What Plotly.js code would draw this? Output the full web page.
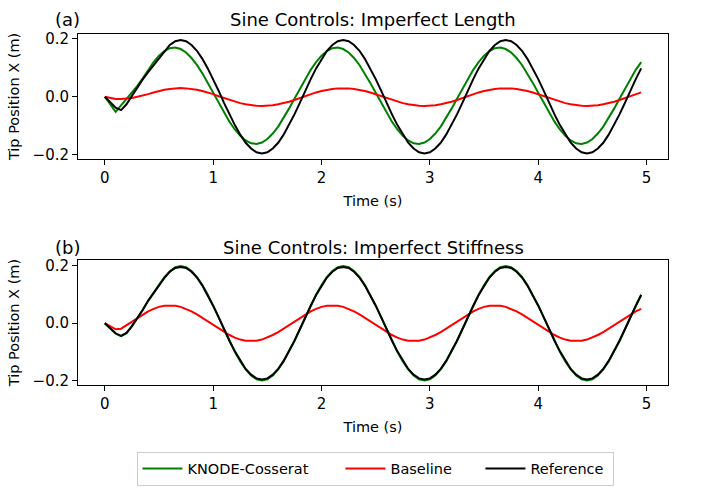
<!DOCTYPE html>
<html>
<head>
<meta charset="utf-8">
<script src="https://cdn.plot.ly/plotly-3.0.1.min.js"></script>
<style>
  html, body { margin: 0; padding: 0; background: #fff; }
  #chart { width: 705px; height: 498px; }
</style>
</head>
<body>
<div id="chart"></div>
<script>
// time samples (s)
var time = [0, 0.05, 0.1, 0.15, 0.2, 0.25, 0.3, 0.35, 0.4, 0.45,
  0.5, 0.55, 0.6, 0.65, 0.7, 0.75, 0.8, 0.85, 0.9, 0.95,
  1, 1.05, 1.1, 1.15, 1.2, 1.25, 1.3, 1.35, 1.4, 1.45,
  1.5, 1.55, 1.6, 1.65, 1.7, 1.75, 1.8, 1.85, 1.9, 1.95,
  2, 2.05, 2.1, 2.15, 2.2, 2.25, 2.3, 2.35, 2.4, 2.45,
  2.5, 2.55, 2.6, 2.65, 2.7, 2.75, 2.8, 2.85, 2.9, 2.95,
  3, 3.05, 3.1, 3.15, 3.2, 3.25, 3.3, 3.35, 3.4, 3.45,
  3.5, 3.55, 3.6, 3.65, 3.7, 3.75, 3.8, 3.85, 3.9, 3.95,
  4, 4.05, 4.1, 4.15, 4.2, 4.25, 4.3, 4.35, 4.4, 4.45,
  4.5, 4.55, 4.6, 4.65, 4.7, 4.75, 4.8, 4.85, 4.9, 4.95];

// (a) imperfect length
var knodeA = [0, -0.026, -0.052, -0.030, -0.008, 0.014, 0.038, 0.064, 0.093, 0.120,
  0.142, 0.158, 0.168, 0.170, 0.165, 0.153, 0.134, 0.110, 0.081, 0.048,
  0.014, -0.021, -0.055, -0.086, -0.113, -0.135, -0.151, -0.161, -0.163, -0.158,
  -0.146, -0.127, -0.103, -0.074, -0.041, -0.007, 0.028, 0.062, 0.093, 0.120,
  0.142, 0.158, 0.168, 0.170, 0.165, 0.153, 0.134, 0.110, 0.081, 0.048,
  0.014, -0.021, -0.055, -0.086, -0.113, -0.135, -0.151, -0.161, -0.163, -0.158,
  -0.146, -0.127, -0.103, -0.074, -0.041, -0.007, 0.028, 0.062, 0.093, 0.120,
  0.142, 0.158, 0.168, 0.170, 0.165, 0.153, 0.134, 0.110, 0.081, 0.048,
  0.014, -0.021, -0.055, -0.086, -0.113, -0.135, -0.151, -0.161, -0.163, -0.158,
  -0.146, -0.127, -0.103, -0.074, -0.041, -0.007, 0.028, 0.062, 0.093, 0.120];
var baseA = [0, -0.005, -0.008, -0.008, -0.007, -0.004, 0.000, 0.004, 0.009, 0.015,
  0.020, 0.024, 0.027, 0.029, 0.030, 0.029, 0.027, 0.024, 0.020, 0.015,
  0.009, 0.002, -0.004, -0.011, -0.017, -0.022, -0.026, -0.029, -0.031, -0.032,
  -0.031, -0.029, -0.026, -0.022, -0.017, -0.011, -0.004, 0.002, 0.009, 0.015,
  0.020, 0.024, 0.027, 0.029, 0.030, 0.029, 0.027, 0.024, 0.020, 0.015,
  0.009, 0.002, -0.004, -0.011, -0.017, -0.022, -0.026, -0.029, -0.031, -0.032,
  -0.031, -0.029, -0.026, -0.022, -0.017, -0.011, -0.004, 0.002, 0.009, 0.015,
  0.020, 0.024, 0.027, 0.029, 0.030, 0.029, 0.027, 0.024, 0.020, 0.015,
  0.009, 0.002, -0.004, -0.011, -0.017, -0.022, -0.026, -0.029, -0.031, -0.032,
  -0.031, -0.029, -0.026, -0.022, -0.017, -0.011, -0.004, 0.002, 0.009, 0.015];
var refA = [0, -0.020, -0.038, -0.046, -0.026, 0.003, 0.033, 0.060, 0.085, 0.109,
  0.132, 0.159, 0.179, 0.192, 0.196, 0.192, 0.179, 0.159, 0.131, 0.098,
  0.061, 0.021, -0.021, -0.061, -0.098, -0.131, -0.159, -0.179, -0.192, -0.196,
  -0.192, -0.179, -0.159, -0.131, -0.098, -0.061, -0.021, 0.021, 0.061, 0.098,
  0.131, 0.159, 0.179, 0.192, 0.196, 0.192, 0.179, 0.159, 0.131, 0.098,
  0.061, 0.021, -0.021, -0.061, -0.098, -0.131, -0.159, -0.179, -0.192, -0.196,
  -0.192, -0.179, -0.159, -0.131, -0.098, -0.061, -0.021, 0.021, 0.061, 0.098,
  0.131, 0.159, 0.179, 0.192, 0.196, 0.192, 0.179, 0.159, 0.131, 0.098,
  0.061, 0.021, -0.021, -0.061, -0.098, -0.131, -0.159, -0.179, -0.192, -0.196,
  -0.192, -0.179, -0.159, -0.131, -0.098, -0.061, -0.021, 0.021, 0.061, 0.098];

// (b) imperfect stiffness
var knodeB = [0, -0.018, -0.036, -0.045, -0.035, -0.011, 0.016, 0.047, 0.079, 0.108,
  0.134, 0.160, 0.181, 0.195, 0.199, 0.195, 0.182, 0.161, 0.133, 0.099,
  0.062, 0.021, -0.021, -0.062, -0.099, -0.133, -0.161, -0.182, -0.195, -0.199,
  -0.195, -0.182, -0.161, -0.133, -0.099, -0.062, -0.021, 0.021, 0.062, 0.099,
  0.133, 0.161, 0.182, 0.195, 0.199, 0.195, 0.182, 0.161, 0.133, 0.099,
  0.062, 0.021, -0.021, -0.062, -0.099, -0.133, -0.161, -0.182, -0.195, -0.199,
  -0.195, -0.182, -0.161, -0.133, -0.099, -0.062, -0.021, 0.021, 0.062, 0.099,
  0.133, 0.161, 0.182, 0.195, 0.199, 0.195, 0.182, 0.161, 0.133, 0.099,
  0.062, 0.021, -0.021, -0.062, -0.099, -0.133, -0.161, -0.182, -0.195, -0.199,
  -0.195, -0.182, -0.161, -0.133, -0.099, -0.062, -0.021, 0.021, 0.062, 0.099];
var baseB = [0, -0.012, -0.021, -0.019, -0.007, 0.007, 0.020, 0.031, 0.041, 0.050,
  0.057, 0.061, 0.062, 0.061, 0.057, 0.050, 0.041, 0.031, 0.019, 0.006,
  -0.006, -0.019, -0.031, -0.041, -0.050, -0.057, -0.061, -0.062, -0.061, -0.057,
  -0.050, -0.041, -0.031, -0.019, -0.006, 0.006, 0.019, 0.031, 0.041, 0.050,
  0.057, 0.061, 0.062, 0.061, 0.057, 0.050, 0.041, 0.031, 0.019, 0.006,
  -0.006, -0.019, -0.031, -0.041, -0.050, -0.057, -0.061, -0.062, -0.061, -0.057,
  -0.050, -0.041, -0.031, -0.019, -0.006, 0.006, 0.019, 0.031, 0.041, 0.050,
  0.057, 0.061, 0.062, 0.061, 0.057, 0.050, 0.041, 0.031, 0.019, 0.006,
  -0.006, -0.019, -0.031, -0.041, -0.050, -0.057, -0.061, -0.062, -0.061, -0.057,
  -0.050, -0.041, -0.031, -0.019, -0.006, 0.006, 0.019, 0.031, 0.041, 0.050];
var refB = [0, -0.018, -0.035, -0.044, -0.034, -0.010, 0.016, 0.046, 0.078, 0.106,
  0.132, 0.158, 0.179, 0.192, 0.196, 0.192, 0.179, 0.159, 0.131, 0.098,
  0.061, 0.021, -0.021, -0.061, -0.098, -0.131, -0.159, -0.179, -0.192, -0.196,
  -0.192, -0.179, -0.159, -0.131, -0.098, -0.061, -0.021, 0.021, 0.061, 0.098,
  0.131, 0.159, 0.179, 0.192, 0.196, 0.192, 0.179, 0.159, 0.131, 0.098,
  0.061, 0.021, -0.021, -0.061, -0.098, -0.131, -0.159, -0.179, -0.192, -0.196,
  -0.192, -0.179, -0.159, -0.131, -0.098, -0.061, -0.021, 0.021, 0.061, 0.098,
  0.131, 0.159, 0.179, 0.192, 0.196, 0.192, 0.179, 0.159, 0.131, 0.098,
  0.061, 0.021, -0.021, -0.061, -0.098, -0.131, -0.159, -0.179, -0.192, -0.196,
  -0.192, -0.179, -0.159, -0.131, -0.098, -0.061, -0.021, 0.021, 0.061, 0.098];

var seriesNames = ['KNODE-Cosserat', 'Baseline', 'Reference'];
var seriesColors = ['#008000', '#ff0000', '#000000'];
var legendWidths = [148, 85, 78];
var panelTitles = ['Sine Controls: Imperfect Length', 'Sine Controls: Imperfect Stiffness'];
var panelTags = ['(a)', '(b)'];

var panels = [[knodeA, baseA, refA], [knodeB, baseB, refB]];
var data = [];
panels.forEach(function (set, p) {
  set.forEach(function (vals, s) {
    data.push({
      x: time,
      y: vals,
      type: 'scatter',
      mode: 'lines',
      name: seriesNames[s],
      legendgroup: seriesNames[s],
      legendwidth: legendWidths[s],
      showlegend: p === 0,
      xaxis: p === 0 ? 'x' : 'x2',
      yaxis: p === 0 ? 'y' : 'y2',
      line: { color: seriesColors[s], width: 2 }
    });
  });
});

var font = { family: 'DejaVu Sans', size: 14.5, color: '#000' };
var tickFont = { family: 'DejaVu Sans', size: 15, color: '#000' };
var titleFont = { family: 'DejaVu Sans', size: 18, color: '#000' };

function axis(extra) {
  var a = {
    showline: true,
    mirror: true,
    linecolor: '#000',
    linewidth: 1,
    ticks: 'outside',
    ticklen: 5,
    tickwidth: 1,
    tickcolor: '#000',
    showgrid: false,
    zeroline: false,
    tickfont: tickFont
  };
  for (var k in extra) a[k] = extra[k];
  return a;
}

var layout = {
  width: 705,
  height: 498,
  paper_bgcolor: '#fff',
  plot_bgcolor: '#fff',
  font: font,
  margin: { l: 78, r: 37, t: 34, b: 107 },
  showlegend: true,
  xaxis: axis({ domain: [0, 1], range: [-0.2475, 5.1975], dtick: 1, anchor: 'y',
    title: { text: 'Time (s)', font: font, standoff: 9 } }),
  yaxis: axis({ domain: [0.644, 1], range: [-0.215, 0.217], tickvals: [-0.2, 0, 0.2],
    tickformat: '.1f', anchor: 'x', title: { text: 'Tip Position X (m)', font: font, standoff: 9 } }),
  xaxis2: axis({ domain: [0, 1], range: [-0.2475, 5.1975], dtick: 1, anchor: 'y2',
    title: { text: 'Time (s)', font: font, standoff: 9 } }),
  yaxis2: axis({ domain: [0, 0.3557], range: [-0.215, 0.2195], tickvals: [-0.2, 0, 0.2],
    tickformat: '.1f', anchor: 'x2', title: { text: 'Tip Position X (m)', font: font, standoff: 9 } }),
  legend: {
    orientation: 'h',
    x: 0.505, xanchor: 'center',
    y: -0.19, yanchor: 'top',
    itemwidth: 40,
    bordercolor: '#cccccc', borderwidth: 1,
    bgcolor: '#fff',
    font: font
  },
  annotations: [
    { text: panelTitles[0], xref: 'paper', yref: 'paper', x: 0.5, y: 1.042, xanchor: 'center', yanchor: 'middle', showarrow: false, font: titleFont },
    { text: panelTags[0], xref: 'paper', yref: 'paper', x: -0.042, y: 1.042, xanchor: 'left', yanchor: 'middle', showarrow: false, font: titleFont },
    { text: panelTitles[1], xref: 'paper', yref: 'paper', x: 0.5, y: 0.392, xanchor: 'center', yanchor: 'middle', showarrow: false, font: titleFont },
    { text: panelTags[1], xref: 'paper', yref: 'paper', x: -0.042, y: 0.392, xanchor: 'left', yanchor: 'middle', showarrow: false, font: titleFont }
  ]
};

Plotly.newPlot('chart', data, layout, { displayModeBar: false, staticPlot: true });
</script>
</body>
</html>
